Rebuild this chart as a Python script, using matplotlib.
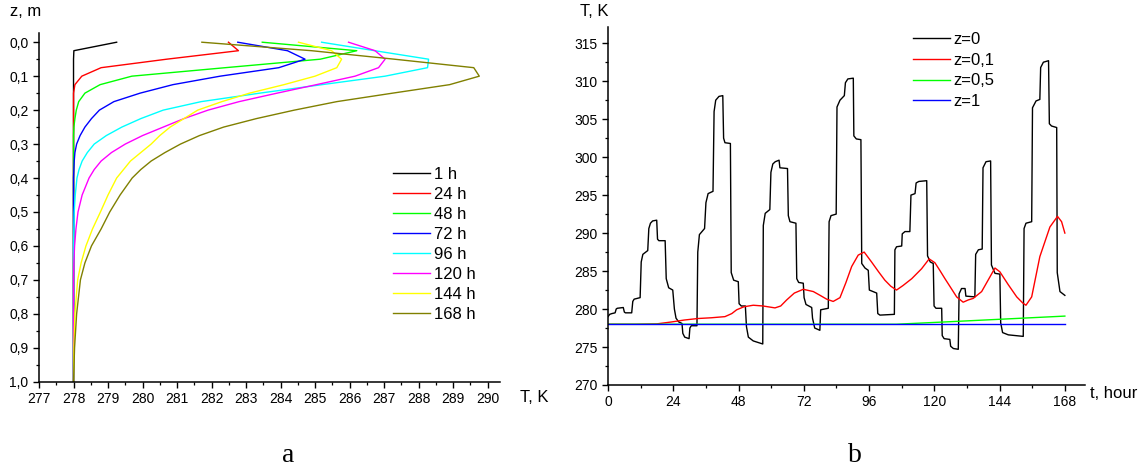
"""
Soil temperature: depth profiles (a) and time series at fixed depths (b)
"""

import matplotlib
matplotlib.use('Agg')  # no display
import matplotlib.pyplot as plt
from matplotlib.ticker import MultipleLocator, FuncFormatter

plt.rcParams['font.family'] = ['Liberation Sans', 'DejaVu Sans']

# ---------------- panel a: profiles T(z) ----------------
depth = [0, 0.025, 0.05, 0.075, 0.1, 0.125, 0.15, 0.175, 0.2, 0.225, 0.25, 0.275,
         0.3, 0.325, 0.35, 0.375, 0.4, 0.45, 0.5, 0.55, 0.6, 0.65, 0.7, 0.8, 0.9, 1.0]

prof_1h = [279.25, 278.01, 278.0, 278.0, 278.0, 278.0, 278.0, 278.0, 278.0, 278.0,
           278.0, 278.0, 278.0, 278.0, 278.0, 278.0, 278.0, 278.0, 278.0, 278.0,
           278.0, 278.0, 278.0, 278.0, 278.0, 278.0]
prof_24h = [282.49, 282.78, 280.7, 278.8, 278.24, 278.04, 278.0, 278.0, 278.0, 278.0,
            278.0, 278.0, 278.0, 278.0, 278.0, 278.0, 278.0, 278.0, 278.0, 278.0,
            278.0, 278.0, 278.0, 278.0, 278.0, 278.0]
prof_48h = [283.47, 286.21, 285.15, 282.4, 279.69, 278.77, 278.33, 278.15, 278.08, 278.04,
            278.01, 278.0, 278.0, 278.0, 278.0, 278.0, 278.0, 278.0, 278.0, 278.0,
            278.0, 278.0, 278.0, 278.0, 278.0, 278.0]
prof_72h = [282.76, 284.2, 284.71, 283.95, 282.25, 280.88, 279.93, 279.17, 278.75, 278.52,
            278.33, 278.19, 278.09, 278.04, 278.02, 278.01, 278.0, 278.0, 278.0, 278.0,
            278.0, 278.0, 278.0, 278.0, 278.0, 278.0]
prof_96h = [285.19, 286.73, 288.29, 288.26, 287.03, 285.2, 283.4, 281.7, 280.6, 279.95,
            279.4, 278.95, 278.6, 278.4, 278.25, 278.16, 278.1, 278.05, 278.02, 278.01,
            278.0, 278.0, 278.0, 278.0, 278.0, 278.0]
prof_120h = [285.97, 286.74, 287.03, 286.84, 286.16, 285.04, 283.9, 282.8, 281.9, 281.2,
             280.6, 280.0, 279.5, 279.1, 278.8, 278.6, 278.45, 278.25, 278.13, 278.07,
             278.03, 278.01, 278.0, 278.0, 278.0, 278.0]
prof_144h = [284.52, 285.48, 285.77, 285.63, 285.0, 284.1, 283.1, 282.3, 281.6, 281.2,
             280.8, 280.5, 280.25, 279.95, 279.65, 279.45, 279.25, 279.0, 278.78, 278.55,
             278.36, 278.22, 278.12, 278.04, 278.01, 278.0]
prof_168h = [281.72, 284.9, 287.3, 289.6, 289.76, 288.9, 287.25, 285.63, 284.4, 283.3,
             282.35, 281.65, 281.1, 280.65, 280.25, 279.95, 279.7, 279.35, 279.05, 278.8,
             278.52, 278.33, 278.2, 278.09, 278.03, 278.0]

profiles = [prof_1h, prof_24h, prof_48h, prof_72h, prof_96h, prof_120h, prof_144h, prof_168h]
profile_labels = ['1 h', '24 h', '48 h', '72 h', '96 h', '120 h', '144 h', '168 h']
profile_colors = ['black', 'red', '#00ff00', 'blue', 'cyan', 'magenta', 'yellow', '#808000']

# ---------------- panel b: T(t) at fixed depths ----------------
t_z0 = [0.0, 0.6, 1.4, 2.6, 3.0, 3.4, 5.6, 6.0, 6.4, 8.7, 9.1, 9.6, 11.8, 12.2, 12.8,
        14.6, 15.0, 15.6, 16.4, 17.9, 18.2, 18.7, 21.0, 21.4, 22.3, 23.8, 24.4, 25.0,
        26.0, 27.2, 27.5, 28.2, 29.8, 30.1, 30.6, 32.7, 33.0, 33.6, 35.5, 36.0, 36.8,
        38.6, 39.0, 39.6, 40.8, 42.2, 42.5, 43.0, 45.0, 45.3, 46.2, 47.9, 48.2, 49.0,
        50.5, 50.9, 51.6, 53.4, 56.9, 57.1, 57.8, 59.5, 59.9, 60.6, 61.5, 62.9, 63.2,
        66.0, 66.3, 66.9, 69.1, 69.4, 70.1, 71.8, 72.1, 72.8, 74.9, 75.2, 76.0, 77.9,
        78.2, 81.0, 81.3, 82.0, 83.9, 84.2, 85.3, 86.9, 87.3, 88.2, 90.2, 90.4, 91.3,
        93.0, 93.3, 94.5, 95.7, 96.1, 98.8, 99.2, 100.0, 105.3, 105.5, 106.1, 108.0,
        108.2, 109.2, 111.0, 111.4, 112.9, 113.3, 114.3, 117.2, 117.5, 118.5, 119.6,
        119.9, 120.6, 122.7, 122.9, 123.6, 125.7, 126.0, 127.0, 128.8, 129.1, 130.0,
        131.3, 131.6, 134.9, 135.2, 136.2, 137.6, 137.9, 139.0, 140.7, 141.0, 142.3,
        144.1, 144.4, 145.1, 147.2, 152.7, 153.0, 153.7, 155.8, 156.1, 157.4, 158.8,
        159.1, 160.1, 162.0, 162.3, 163.1, 165.0, 165.2, 166.2, 168.0]
T_z0 = [279.0, 279.3, 279.4, 279.5, 280.0, 280.1, 280.2, 279.6, 279.5, 279.5, 281.0, 281.3,
        281.5, 286.2, 287.2, 287.7, 290.6, 291.3, 291.6, 291.7, 289.2, 289.0, 289.0,
        284.0, 282.8, 282.5, 280.0, 278.8, 278.3, 278.1, 276.8, 276.3, 276.1, 277.5,
        277.8, 277.8, 287.5, 289.8, 290.6, 294.0, 295.2, 295.5, 306.0, 307.5, 308.0,
        308.1, 302.5, 301.9, 301.8, 284.8, 283.8, 283.6, 280.7, 280.4, 280.4, 277.7,
        276.3, 275.8, 275.4, 291.0, 292.6, 293.1, 298.0, 299.1, 299.4, 299.6, 298.6,
        298.5, 292.3, 291.5, 291.3, 284.0, 283.5, 283.4, 281.5, 280.6, 280.2, 278.8,
        277.5, 277.2, 279.9, 280.1, 291.5, 292.3, 292.5, 306.6, 307.5, 308.1, 309.8,
        310.3, 310.4, 302.8, 302.4, 302.3, 286.0, 285.4, 285.1, 282.5, 282.1, 279.4,
        279.2, 279.3, 287.8, 288.2, 288.3, 289.9, 290.2, 290.2, 295.0, 295.2, 296.6,
        296.8, 296.9, 287.0, 286.2, 286.0, 280.4, 280.1, 280.1, 276.5, 276.1, 276.0,
        275.1, 274.8, 274.7, 282.0, 282.7, 282.7, 281.7, 281.6, 287.2, 287.8, 287.9,
        298.6, 299.4, 299.5, 285.8, 284.7, 284.6, 278.2, 276.9, 276.6, 276.4, 290.6,
        291.3, 291.5, 306.5, 307.4, 307.6, 311.8, 312.5, 312.7, 304.4, 304.1, 303.9,
        284.8, 282.3, 281.8]

t_z01 = [0, 10, 18, 23.4, 28, 33, 38, 43, 45.5, 47.3, 50, 53.4, 57, 61.4, 63.5, 65.7,
         68.5, 71.8, 75.5, 78, 80.4, 82.8, 85.3, 87.5, 89.6, 92, 94.2, 96.9, 99.5,
         101.8, 104, 106.1, 108.5, 111.7, 115.3, 118.1, 120.2, 122, 123.9, 125.7,
         128.2, 130.6, 132.5, 134.3, 137.4, 140.4, 142.3, 144.1, 147.2, 150.3, 152.5,
         153.7, 155.8, 158.8, 162.5, 165.3, 166.8, 168]
T_z01 = [278.0, 278.0, 278.05, 278.3, 278.55, 278.75, 278.85, 279.0, 279.4, 279.9, 280.3,
         280.5, 280.4, 280.15, 280.4, 281.2, 282.1, 282.6, 282.3, 281.8, 281.3, 281.0,
         281.5, 283.5, 285.6, 287.1, 287.5, 286.2, 284.9, 283.8, 283.0, 282.5, 283.1,
         284.0, 285.3, 286.6, 286.1, 285.1, 284.0, 283.0, 281.6, 280.9, 281.2, 281.4,
         282.3, 284.2, 285.4, 284.9, 283.2, 281.6, 280.8, 280.5, 281.6, 286.9, 290.8,
         292.2, 291.5, 290.0]

t_z05 = [0, 106, 125.7, 168]
T_z05 = [278.0, 278.0, 278.33, 279.07]

t_z1 = [0, 168]
T_z1 = [278.0, 278.0]

comma = FuncFormatter(lambda v, p: f'{v:.1f}'.replace('.', ','))


def style_axes(ax):
    """Only left/bottom spines, outward ticks"""
    for side in ['top', 'right']:
        ax.spines[side].set_visible(False)
    for side in ['left', 'bottom']:
        ax.spines[side].set_linewidth(1.1)
    ax.tick_params(which='major', direction='out', length=4, width=1.0, labelsize=10)
    ax.tick_params(which='minor', direction='out', length=2.2, width=0.9)


fig = plt.figure(figsize=(11.41, 4.68), dpi=100)

# panel a
ax1 = fig.add_axes([0.0342, 0.1844, 0.4040, 0.7457])
for prof, lab, col in zip(profiles, profile_labels, profile_colors):
    ax1.plot(prof, depth, color=col, lw=1.0, label=lab)
ax1.set_xlim(277, 290.36)
ax1.set_ylim(1.0, -0.028)
ax1.xaxis.set_major_locator(MultipleLocator(1))
ax1.xaxis.set_minor_locator(MultipleLocator(0.5))
ax1.yaxis.set_major_locator(MultipleLocator(0.1))
ax1.yaxis.set_minor_locator(MultipleLocator(0.05))
ax1.yaxis.set_major_formatter(comma)
style_axes(ax1)
ax1.legend(loc='upper left', bbox_to_anchor=(0.3444, 0.6442), bbox_transform=fig.transFigure,
           frameon=False, borderaxespad=0, borderpad=0, fontsize=12,
           handlelength=2.2, handletextpad=0.25, labelspacing=0.3)

# panel b
ax2 = fig.add_axes([0.5329, 0.1774, 0.4180, 0.7643])
ax2.plot(t_z0, T_z0, color='black', lw=1.0, label='z=0')
ax2.plot(t_z01, T_z01, color='red', lw=1.0, label='z=0,1')
ax2.plot(t_z05, T_z05, color='#00ff00', lw=1.0, label='z=0,5')
ax2.plot(t_z1, T_z1, color='blue', lw=1.0, label='z=1')
ax2.set_xlim(0, 175.4)
ax2.set_ylim(270, 317.1)
ax2.xaxis.set_major_locator(MultipleLocator(24))
ax2.xaxis.set_minor_locator(MultipleLocator(12))
ax2.yaxis.set_major_locator(MultipleLocator(5))
ax2.yaxis.set_minor_locator(MultipleLocator(2.5))
style_axes(ax2)
ax2.legend(loc='upper left', bbox_to_anchor=(0.8002, 0.9314), bbox_transform=fig.transFigure,
           frameon=False, borderaxespad=0, borderpad=0, fontsize=12,
           handlelength=2.2, handletextpad=0.25, labelspacing=0.34)

# axis titles placed like in the original figure
fig.text(10 / 1141, 1 - 12 / 468, 'z, m', fontsize=12, ha='left', va='center')
fig.text(520 / 1141, 1 - 398 / 468, 'T, K', fontsize=12, ha='left', va='center')
fig.text(580 / 1141, 1 - 12 / 468, 'T, K', fontsize=12, ha='left', va='center')
fig.text(1090 / 1141, 1 - 393 / 468, 't, hour', fontsize=12, ha='left', va='center')

# panel letters
fig.text(288 / 1141, 1 - 455 / 468, 'a', fontsize=20, family='Liberation Serif',
         ha='center', va='center')
fig.text(855 / 1141, 1 - 455 / 468, 'b', fontsize=20, family='Liberation Serif',
         ha='center', va='center')

fig.savefig('out.png', dpi=100)
plt.close(fig)
